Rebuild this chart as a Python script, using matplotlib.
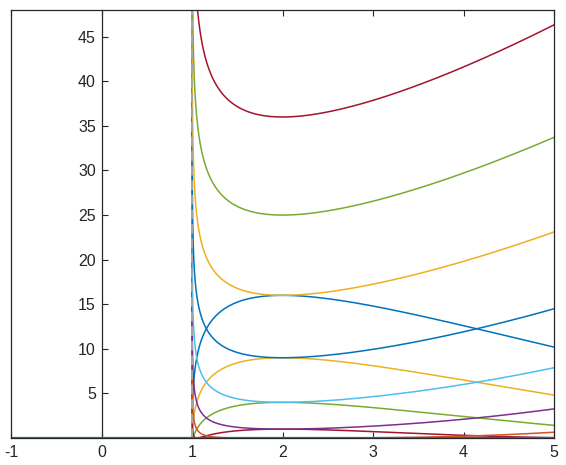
import numpy as np
import matplotlib
matplotlib.use("Agg")
import matplotlib.pyplot as plt

# Values of each curve at its extremum x = 2
# curve: y = (c + h(x))^2, h(x) = (x - 2 - ln(x - 1)) / 2, for x > 1
c_values = [-4, -3, -2, -1, 0, 1, 2, 3, 4, 5, 6]
curve_colors = ["#0072BD", "#EDB120", "#77AC30", "#A2142F", "#D95319",
                "#7E2F8E", "#4DBEEE", "#0072BD", "#EDB120", "#77AC30", "#A2142F"]
x_ticks = [-1, 0, 1, 2, 3, 4, 5]
x_tick_labels = ["-1", "0", "1", "2", "3", "4", "5"]
y_ticks = [5, 10, 15, 20, 25, 30, 35, 40, 45]
y_tick_labels = ["5", "10", "15", "20", "25", "30", "35", "40", "45"]
asymptote_x = 1
x_min, x_max = -1, 5
y_min, y_max = 0, 48

plt.rcParams['font.family'] = ['Liberation Sans', 'DejaVu Sans']

fig = plt.figure(figsize=(5.66, 4.65), dpi=100)
ax = fig.add_axes([11/566, 1-438/465, (554-11)/566, (438-10)/465])

xs = 1 + np.logspace(-14, np.log10(x_max - 1), 6000)
h = (xs - 2 - np.log(xs - 1)) / 2

for c, col in zip(c_values, curve_colors):
    y = (c + h) ** 2
    ax.plot(xs, y, color=col, lw=1.1, zorder=2)

ax.plot([asymptote_x, asymptote_x], [y_min, y_max], color="#a6a6a6",
        lw=1.4, ls=(0, (5, 2.5)), zorder=2.5)

ax.plot([x_min, x_max], [0, 0], color="#0072BD", lw=1.6, zorder=3)

ax.set_xlim(x_min, x_max)
ax.set_ylim(y_min, y_max)

dark = "#262626"
for s in ax.spines.values():
    s.set_color(dark)
    s.set_linewidth(0.9)
ax.spines['left'].set_position(('data', 0))
ax.plot([x_min, x_min], [y_min, y_max], color=dark, lw=0.9, clip_on=False, zorder=4)

ax.set_xticks(x_ticks)
ax.set_xticklabels(x_tick_labels)
ax.set_yticks(y_ticks)
ax.set_yticklabels(y_tick_labels)
ax.tick_params(axis='both', direction='in', length=4, width=0.8, colors=dark,
               labelsize=11.5, labelcolor=dark)
ax.tick_params(axis='x', top=True, pad=5)
ax.tick_params(axis='y', pad=4)

fig.savefig("out.png", dpi=100)
